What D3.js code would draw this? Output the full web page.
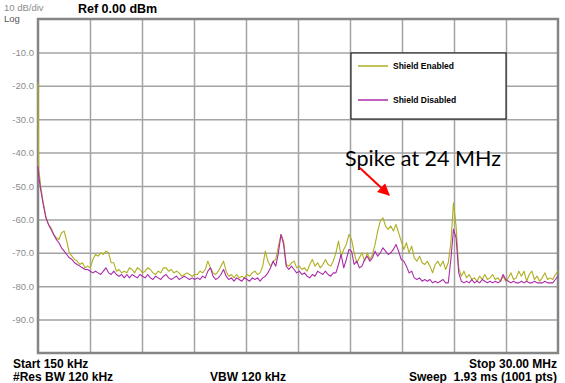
<!DOCTYPE html>
<html>
<head>
<meta charset="utf-8">
<script src="https://cdn.jsdelivr.net/npm/d3@7/dist/d3.min.js"></script>
<style>
  html, body { margin: 0; padding: 0; background: #fff; }
  svg { display: block; }
  text { font-family: "Liberation Sans", Arial, sans-serif; }
</style>
</head>
<body>
<svg id="chart" width="565" height="383"></svg>
<script>
// ---- Data ----
const startFreqMHz = 0.15;
const stopFreqMHz = 30.0;
// first few readings are denser (steep roll-off), then one reading every 0.15 MHz
const leadFreqs = [0.15, 0.17, 0.19, 0.22, 0.26];
const gridFreqs = d3.range(1, 200).map(i => +(0.15 + 0.15 * i).toFixed(2));
const freqs = leadFreqs.concat(gridFreqs);

const shieldEnabled = [
  -19, -35, -45, -46, -48,
  -50, -55, -59, -61.5, -62.5, -64.5, -65.5, -66, -64, -63.5, -66.5, -70, -71, -72, -72.5, -73.5, -73, -74.5, -74, -74.5,
  -72, -70.5, -71, -70, -70.5, -69.5, -70, -73, -73, -75.5, -75, -76, -75.5, -76, -74.5, -75, -76, -74.5, -75, -76,
  -75.5, -74.5, -75, -76, -76.5, -75.5, -76, -74.5, -74.5, -75.5, -75, -76, -75.5, -76, -77, -76.5, -76, -76.5, -77, -76.5,
  -76.5, -75.5, -76, -75, -72.5, -74.5, -76, -76.5, -75.5, -74, -72.5, -75.5, -77, -76.5, -77.5, -76.5, -77.5, -77, -77.5, -76.5,
  -77, -76, -75.5, -76.5, -76, -74, -69.5, -72.5, -74, -72.5, -72, -68, -64.5, -66.5, -73.5, -74, -73, -72.5, -74.5, -74,
  -75, -74.5, -75.5, -73.5, -72, -74, -73, -74.5, -73.5, -72, -73.5, -74, -72.5, -70, -66.5, -71, -69, -67.5, -64.5, -66,
  -70, -73, -71.5, -70, -72.5, -70, -72, -70.5, -67.5, -63.5, -60.5, -59.5, -62, -63, -62, -63.5, -61.5, -64, -66.5, -69,
  -67, -70, -68, -71.5, -72.5, -71, -73, -73.5, -72.5, -74, -76, -73.5, -72.5, -74, -72.5, -75, -73, -67, -55, -62,
  -74.5, -77, -75.5, -77.5, -76.5, -78, -77.5, -78.5, -77, -78, -76.5, -78, -77.5, -76.5, -78, -77.5, -78.5, -77, -78.5, -77.5,
  -76, -78, -77.5, -75.5, -77, -75.5, -78.5, -76.5, -75.5, -78, -77, -78.5, -77.5, -76, -78, -77.5, -78, -76.5, -75.5
];

const shieldDisabled = [
  -44, -46, -47, -48, -49.5,
  -51, -55.5, -59.5, -61.5, -63, -64.5, -66, -67, -68.5, -69.5, -70.5, -71.5, -72, -73, -73.5, -74, -74.5, -75, -75, -75.5,
  -76, -75.5, -76, -76.5, -75.5, -74.5, -76, -76.5, -75.5, -76.5, -77, -76.5, -77.5, -76.5, -77.5, -76.5, -77, -77.5, -76.5, -77,
  -77.5, -76.5, -77.5, -78, -77, -77.5, -78, -77, -76.5, -77.5, -78, -77.5, -77, -78, -77.5, -77, -77.5, -78, -77.5, -78,
  -77.5, -78, -77, -77.5, -75.5, -74.5, -77, -78, -77.5, -76.5, -75, -77, -78, -77.5, -78.5, -77.5, -78, -78.5, -77.5, -78,
  -78.5, -77.5, -78, -77.5, -78.5, -77.5, -77, -76, -74.5, -72.5, -74, -70, -64.5, -67.5, -74, -75, -74, -75, -76, -75.5,
  -76.5, -76, -77, -77.5, -76.5, -77, -75.5, -76, -76.5, -75.5, -76.5, -77, -76, -76, -73.5, -70.5, -74.5, -72, -69, -69.5,
  -73.5, -72.5, -74.5, -74, -72, -71, -72.5, -71.5, -69.5, -71, -70, -68.5, -69.5, -70.5, -70, -69, -67.5, -69.5, -72, -72.5,
  -74, -76, -75.5, -77.5, -78, -77.5, -78.5, -78, -78.5, -78, -79, -78.5, -79, -78.5, -78, -79, -79, -72, -63, -65.5,
  -76, -78.5, -79, -78.5, -79, -78, -79, -78.5, -79, -78, -78.5, -79, -78.5, -79, -78.5, -79, -78.5, -76.5, -78, -78.5,
  -79, -78.5, -79, -79, -78.5, -79, -78.5, -79, -79, -78.5, -79, -79, -79, -78.5, -79, -79, -79, -78, -77
];

const yTicks = [-10, -20, -30, -40, -50, -60, -70, -80, -90];
const xGridTicks = d3.range(1, 10).map(k => startFreqMHz + (stopFreqMHz - startFreqMHz) * k / 10);

const seriesNames = ["Shield Enabled", "Shield Disabled"];
const seriesColors = ["#aeae1e", "#ab2bab"];

const topLeftLabels = ["10 dB/div", "Log"];
const refLabel = "Ref 0.00 dBm";
const footerLeft = ["Start 150 kHz", "#Res BW 120 kHz"];
const footerMid = "VBW 120 kHz";
const footerRight = ["Stop 30.00 MHz", "Sweep  1.93 ms (1001 pts)"];
const annotationText = "Spike at 24 MHz";

// ---- Layout ----
const plot = { left: 38, top: 19, right: 558, bottom: 353 };
const svg = d3.select("#chart");

const x = d3.scaleLinear().domain([startFreqMHz, stopFreqMHz]).range([plot.left, plot.right]);
const y = d3.scaleLinear().domain([-100, 0]).range([plot.bottom, plot.top]);

// grid via axes
const yAxis = d3.axisLeft(y)
  .tickValues(yTicks)
  .tickSize(-(plot.right - plot.left))
  .tickPadding(4)
  .tickFormat(d => d.toFixed(1));

const gy = svg.append("g")
  .attr("transform", `translate(${plot.left},0)`)
  .call(yAxis);
gy.select(".domain").remove();
gy.selectAll(".tick line").attr("stroke", "#a3a3a3").attr("stroke-width", 1.5);
gy.selectAll(".tick text")
  .attr("fill", "#8c8c8c")
  .style("font-size", "9.5px")
  .style("font-family", '"Liberation Sans", Arial, sans-serif');

const xAxis = d3.axisBottom(x)
  .tickValues(xGridTicks)
  .tickSize(-(plot.bottom - plot.top))
  .tickFormat("");
const gx = svg.append("g")
  .attr("transform", `translate(0,${plot.bottom})`)
  .call(xAxis);
gx.select(".domain").remove();
gx.selectAll(".tick line").attr("stroke", "#a3a3a3").attr("stroke-width", 1.5);

// frame
svg.append("rect")
  .attr("x", plot.left).attr("y", plot.top)
  .attr("width", plot.right - plot.left).attr("height", plot.bottom - plot.top)
  .attr("fill", "none").attr("stroke", "#858585").attr("stroke-width", 2.5);

// traces
const line = d3.line().x((d, i) => x(freqs[i])).y(d => y(d));
[shieldEnabled, shieldDisabled].forEach((vals, k) => {
  svg.append("path")
    .datum(vals)
    .attr("fill", "none")
    .attr("stroke", seriesColors[k])
    .attr("stroke-width", 1.1)
    .attr("stroke-linejoin", "round")
    .attr("d", line);
});

// legend
const lg = svg.append("g");
lg.append("rect")
  .attr("x", 351).attr("y", 53).attr("width", 155).attr("height", 66)
  .attr("fill", "#fff").attr("stroke", "#000").attr("stroke-width", 1);
seriesNames.forEach((name, k) => {
  const ly = 66 + k * 34;
  lg.append("line")
    .attr("x1", 358).attr("x2", 388).attr("y1", ly).attr("y2", ly)
    .attr("stroke", seriesColors[k]).attr("stroke-width", 1.5);
  lg.append("text")
    .attr("x", 393).attr("y", ly + 3)
    .attr("fill", "#000")
    .style("font-size", "8.5px").style("font-weight", "bold")
    .text(name);
});

// header texts
svg.append("text").attr("x", 4).attr("y", 11)
  .attr("fill", "#8c8c8c").style("font-size", "9.5px").text(topLeftLabels[0]);
svg.append("text").attr("x", 4).attr("y", 21.5)
  .attr("fill", "#555").style("font-size", "9.5px").text(topLeftLabels[1]);
svg.append("text").attr("x", 78).attr("y", 13)
  .attr("fill", "#000").style("font-size", "12.5px").style("font-weight", "bold").text(refLabel);

// footer texts
footerLeft.forEach((t, k) => {
  svg.append("text").attr("x", 13).attr("y", 368 + k * 13)
    .attr("fill", "#000").style("font-size", "12px").style("font-weight", "bold").text(t);
});
svg.append("text").attr("x", 210).attr("y", 381)
  .attr("fill", "#000").style("font-size", "12px").style("font-weight", "bold").text(footerMid);
footerRight.forEach((t, k) => {
  svg.append("text").attr("x", 557).attr("y", 368 + k * 13)
    .attr("text-anchor", "end")
    .attr("xml:space", "preserve")
    .attr("fill", "#000").style("font-size", "12px").style("font-weight", "bold")
    .style("white-space", "pre")
    .text(t);
});

// annotation
svg.append("defs").append("marker")
  .attr("id", "arrowhead")
  .attr("viewBox", "0 0 10 10")
  .attr("refX", 9).attr("refY", 5)
  .attr("markerWidth", 7).attr("markerHeight", 6)
  .attr("markerUnits", "strokeWidth")
  .attr("orient", "auto")
  .append("path").attr("d", "M0,0 L10,5 L0,10 Z").attr("fill", "#ff0000");

svg.append("text").attr("x", 345).attr("y", 165.5)
  .attr("fill", "#000")
  .style("font-family", 'Lato, "Liberation Sans", sans-serif')
  .style("font-size", "21px")
  .attr("textLength", 156).attr("lengthAdjust", "spacingAndGlyphs")
  .text(annotationText);
svg.append("line")
  .attr("x1", 360).attr("y1", 168).attr("x2", 389).attr("y2", 195)
  .attr("stroke", "#ff0000").attr("stroke-width", 2)
  .attr("marker-end", "url(#arrowhead)");
</script>
</body>
</html>
